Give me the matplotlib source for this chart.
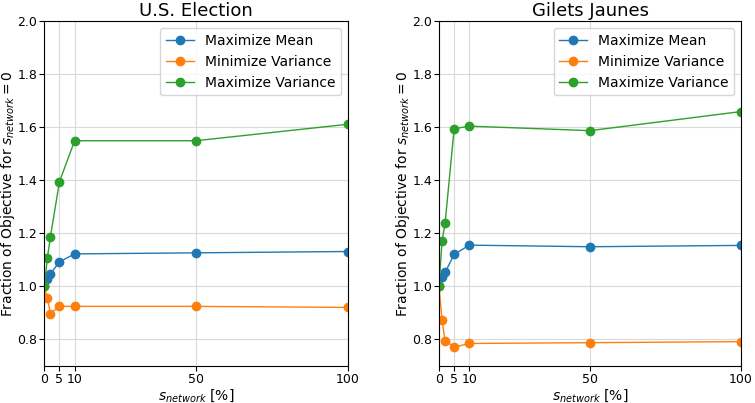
import numpy as np
import matplotlib
matplotlib.use('Agg')
import matplotlib.pyplot as plt

# network share in percent
s_network = [0, 1, 2, 5, 10, 50, 100]

# U.S. Election
us_max_mean = [1.0, 1.028, 1.048, 1.093, 1.123, 1.127, 1.132]
us_min_var = [1.0, 0.957, 0.898, 0.925, 0.925, 0.925, 0.921]
us_max_var = [1.0, 1.107, 1.187, 1.396, 1.550, 1.550, 1.612]

# Gilets Jaunes
gj_max_mean = [1.0, 1.034, 1.053, 1.121, 1.156, 1.150, 1.155]
gj_min_var = [1.0, 0.872, 0.796, 0.771, 0.785, 0.788, 0.792]
gj_max_var = [1.0, 1.172, 1.238, 1.595, 1.605, 1.588, 1.660]

titles = ['U.S. Election', 'Gilets Jaunes']
series_labels = ['Maximize Mean', 'Minimize Variance', 'Maximize Variance']
xticks = [0, 5, 10, 50, 100]
yticks = [0.8, 1.0, 1.2, 1.4, 1.6, 1.8, 2.0]

plt.rc('font', size=10)
plt.rc('xtick', labelsize=9)
plt.rc('ytick', labelsize=9)
plt.rc('xtick.major', pad=1.5)
plt.rc('ytick.major', pad=1.5)

fig = plt.figure(figsize=(7.55, 4.03), dpi=100)
ax1 = fig.add_axes([0.0587, 0.0918, 0.4019, 0.855])
ax2 = fig.add_axes([0.5815, 0.0918, 0.4000, 0.855])

panels = [
    (ax1, [us_max_mean, us_min_var, us_max_var]),
    (ax2, [gj_max_mean, gj_min_var, gj_max_var]),
]

for (ax, data), title in zip(panels, titles):
    for values, label in zip(data, series_labels):
        ax.plot(s_network, values, marker='o', markersize=6, linewidth=1, label=label)
    ax.set_title(title, fontsize=13, pad=4)
    ax.set_xlim(0, 100)
    ax.set_ylim(0.7, 2.0)
    ax.set_xticks(xticks)
    ax.set_yticks(yticks)
    ax.grid(True, color='#d9d9d9', linewidth=0.8)
    ax.set_axisbelow(True)
    ax.set_xlabel(r'$s_{network}$ [%]', labelpad=1)
    ax.set_ylabel(r'Fraction of Objective for $s_{network} = 0$', fontsize=10)
    ax.yaxis.set_label_coords(-0.089, 0.5)
    ax.legend(loc='upper right', fontsize=10)

fig.savefig('out.png', dpi=100)
plt.close(fig)
